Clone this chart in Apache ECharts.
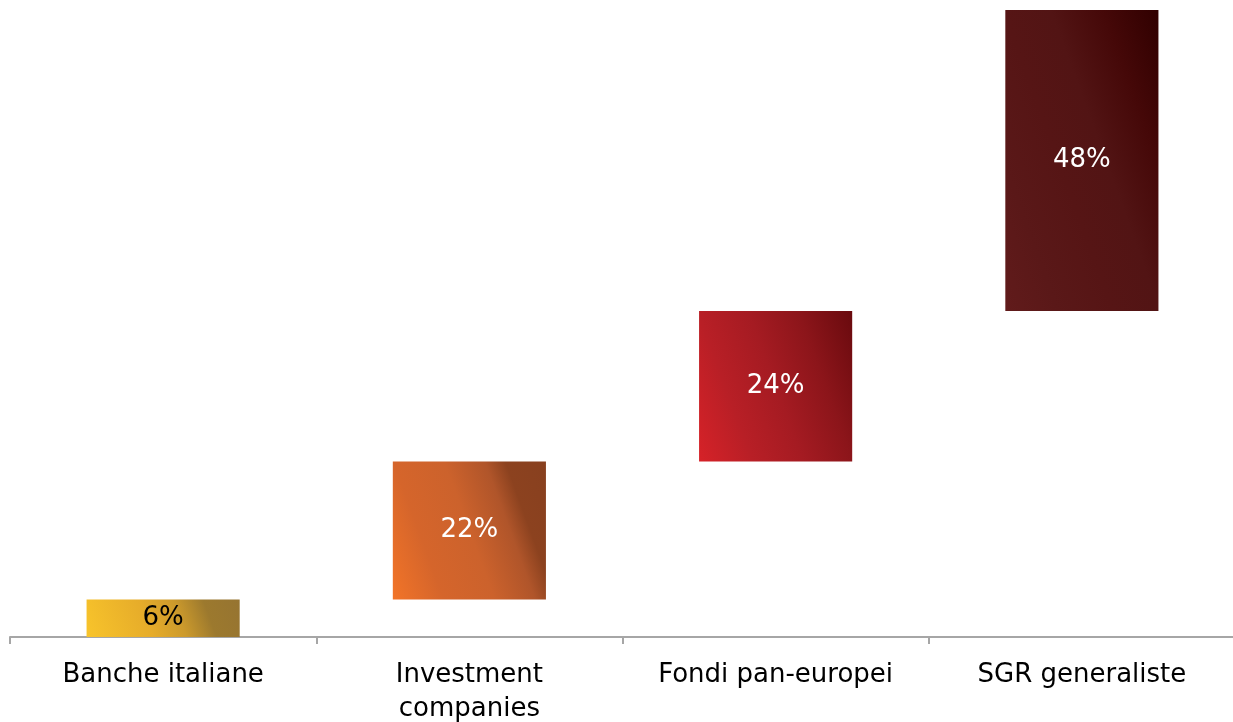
<!DOCTYPE html>
<html>
<head>
<meta charset="utf-8">
<script src="https://cdn.jsdelivr.net/npm/echarts@6/dist/echarts.min.js"></script>
<style>
  html, body { margin: 0; padding: 0; background: #fff; }
  #chart { width: 1233px; height: 722px; }
</style>
</head>
<body>
<div id="chart"></div>
<script>
// Share by type of player (waterfall, cumulative to 100%)
const categories = ['Banche italiane', 'Investment\ncompanies', 'Fondi pan-europei', 'SGR generaliste'];
const shares = [6, 22, 24, 48];
const labelColors = ['#000000', '#ffffff', '#ffffff', '#ffffff'];

// colour stops per block, running from the bottom-left to the top-right corner
const gradientStops = [
  [['#F8C42B', 0], ['#E6AC2A', 0.4], ['#CC9A2C', 0.6], ['#9C792E', 0.78], ['#967431', 1]],
  [['#F27428', 0], ['#D5652B', 0.25], ['#CC622C', 0.5], ['#B0552A', 0.7], ['#8C421F', 0.8], ['#88401F', 1]],
  [['#D62228', 0], ['#B81F26', 0.26], ['#A51B22', 0.5], ['#8C151A', 0.74], ['#690A0E', 1]],
  [['#611B1B', 0], ['#5A1818', 0.2], ['#561515', 0.41], ['#521414', 0.59], ['#450808', 0.79], ['#300000', 1]]
];
const GRADIENT_ANGLE = 20; // degrees above horizontal, same for every block
const BAR_RATIO = 0.5;

// invisible offsets so each block starts where the previous one ended
const offsets = [];
let running = 0;
shares.forEach(v => { offsets.push(running); running += v; });

const chart = echarts.init(document.getElementById('chart'), null, { renderer: 'canvas' });

function buildOption(colors) {
  return {
    animation: false,
    grid: { left: 10, top: 10, width: 1225, bottom: 85, containLabel: false, outerBoundsMode: 'none' },
    xAxis: {
      type: 'category',
      data: categories,
      boundaryGap: true,
      axisLine: { show: true, lineStyle: { color: '#A6A6A6', width: 2 } },
      axisTick: { show: true, length: 7, lineStyle: { color: '#A6A6A6', width: 2 } },
      axisLabel: {
        color: '#000', fontSize: 26, fontFamily: 'DejaVu Sans',
        lineHeight: 34, margin: 21, interval: 0
      }
    },
    yAxis: {
      type: 'value', min: 0, max: 100,
      show: false, splitLine: { show: false }
    },
    series: [
      {
        type: 'bar', stack: 'w', barWidth: (BAR_RATIO * 100) + '%',
        itemStyle: { color: 'transparent' },
        emphasis: { disabled: true },
        data: offsets
      },
      {
        type: 'bar', stack: 'w', barWidth: (BAR_RATIO * 100) + '%',
        data: shares.map((v, i) => ({
          value: v,
          itemStyle: { color: colors[i] },
          label: { color: labelColors[i] }
        })),
        label: {
          show: true, position: 'inside',
          fontSize: 26, fontFamily: 'DejaVu Sans',
          formatter: p => p.value + '%'
        }
      }
    ]
  };
}

chart.setOption(buildOption(shares.map(() => '#888')));

// Gradients keep one on-screen angle, so express them in each block's own box units
const catW = chart.convertToPixel({ xAxisIndex: 0 }, categories[1]) - chart.convertToPixel({ xAxisIndex: 0 }, categories[0]);
const unitH = chart.convertToPixel({ yAxisIndex: 0 }, 0) - chart.convertToPixel({ yAxisIndex: 0 }, 1);
const rad = GRADIENT_ANGLE * Math.PI / 180;
const colors = shares.map((v, i) => {
  const w = catW * BAR_RATIO;
  const h = v * unitH;
  const len = w * Math.cos(rad) + h * Math.sin(rad);
  const x2 = len * Math.cos(rad) / w;
  const y2 = 1 - len * Math.sin(rad) / h;
  return new echarts.graphic.LinearGradient(0, 1, x2, y2,
    gradientStops[i].map(s => ({ offset: s[1], color: s[0] })));
});
chart.setOption(buildOption(colors));
</script>
</body>
</html>
